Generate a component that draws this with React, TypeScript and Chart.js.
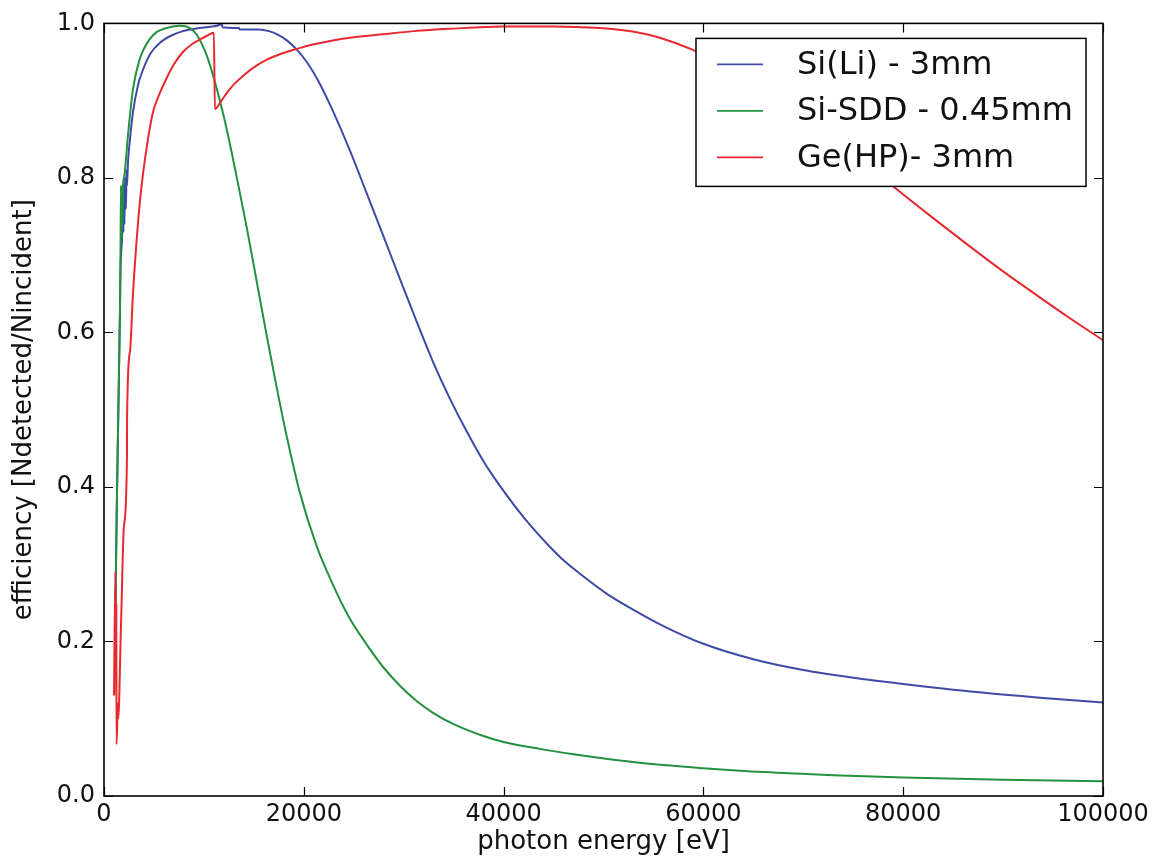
import React, { useEffect, useRef } from "react";
import { Chart, registerables } from "chart.js";

Chart.register(...registerables);

// ---- data (photon energy in eV, efficiency) ----
const siliEnergy = [
  1150, 1200, 1300, 1400, 1500, 1600, 1650, 1700, 1800, 1900, 1950, 2000, 2050, 2100, 2200, 2250, 2300, 2400,
  2600, 2900, 3400, 3900, 4700, 5600, 6700, 7900, 9500, 11300, 11800, 11850, 13500, 13600, 15500, 16500, 17300,
  18300, 19300, 20300, 21300, 22100, 22900, 24600, 26300, 27900, 29600, 31300, 32900, 34600, 36300, 38000,
  39600, 41200, 42900, 44600, 46000, 48000, 50300, 53000, 56000, 60000, 65000, 70000, 75000, 80000, 87000,
  94000, 100000,
];
const siliEff = [
  0.24, 0.3, 0.39, 0.47, 0.55, 0.63, 0.68, 0.7, 0.72, 0.78, 0.73, 0.79, 0.74, 0.8, 0.76, 0.81, 0.79, 0.82,
  0.85, 0.885, 0.92, 0.94, 0.962, 0.975, 0.984, 0.99, 0.994, 0.997, 0.999, 0.995, 0.994, 0.992, 0.992, 0.99, 0.986,
  0.978, 0.966, 0.95, 0.929, 0.909, 0.887, 0.836, 0.78, 0.727, 0.67, 0.614, 0.563, 0.515, 0.472, 0.433,
  0.402, 0.374, 0.347, 0.323, 0.305, 0.284, 0.262, 0.241, 0.22, 0.197, 0.177, 0.163, 0.153, 0.145, 0.135,
  0.127, 0.121,
];

const sddEnergy = [
  1150, 1200, 1300, 1400, 1500, 1600, 1650, 1700, 1750, 1800, 1850, 1900, 2000, 2100, 2400, 2900, 3600, 4200,
  4600, 5300, 6000, 7600, 8600, 9300, 10300, 11300, 12300, 13300, 14300, 15300, 16300, 17300, 18300, 19600,
  21300, 22900, 24500, 26300, 28000, 29600, 31200, 32900, 35000, 37900, 40000, 43600, 47000, 51000, 56000,
  60000, 66000, 73000, 80000, 90000, 100000,
];
const sddEff = [
  0.24, 0.3, 0.39, 0.47, 0.55, 0.63, 0.7, 0.79, 0.72, 0.79, 0.74, 0.79, 0.8, 0.81, 0.855, 0.915, 0.955, 0.972,
  0.98, 0.989, 0.993, 0.997, 0.994, 0.985, 0.958, 0.915, 0.862, 0.8, 0.735, 0.665, 0.595, 0.528, 0.465, 0.393,
  0.323, 0.274, 0.232, 0.196, 0.166, 0.143, 0.124, 0.108, 0.093, 0.078, 0.07, 0.061, 0.054, 0.047, 0.04,
  0.036, 0.031, 0.027, 0.024, 0.021, 0.019,
];

const geEnergy = [
  1000, 1150, 1220, 1240, 1250, 1400, 1420, 1700, 2000, 2300, 2310, 2600, 2900, 3300, 3600, 3900, 4400, 4900,
  5500, 6300, 7000, 7900, 8800, 9600, 10300, 11000, 11100, 11600, 12300, 13000, 14000, 15000, 16300, 17800,
  19300, 21000, 22900, 25000, 27900, 31000, 34600, 40000, 45000, 49600, 52000, 54600, 56900, 58900, 62000,
  66000, 70000, 74000, 77000, 79300, 83000, 86500, 90000, 93500, 96500, 100000,
];
const geEff = [
  0.13, 0.29, 0.13, 0.25, 0.067, 0.12, 0.1, 0.22, 0.35, 0.44, 0.49, 0.575, 0.65, 0.725, 0.77, 0.805, 0.85, 0.885,
  0.907, 0.93, 0.947, 0.963, 0.973, 0.979, 0.984, 0.988, 0.889, 0.897, 0.91, 0.921, 0.933, 0.943, 0.953, 0.961,
  0.967, 0.973, 0.978, 0.982, 0.986, 0.99, 0.993, 0.996, 0.996, 0.994, 0.991, 0.985, 0.976, 0.966, 0.948,
  0.918, 0.883, 0.843, 0.811, 0.786, 0.748, 0.713, 0.679, 0.647, 0.62, 0.59,
];

const seriesLabels = ["Si(Li) - 3mm", "Si-SDD - 0.45mm", "Ge(HP)- 3mm"];
const seriesColors = ["#3d4ba6", "#24913f", "#e8292f"];

const xTicks = [0, 20000, 40000, 60000, 80000, 100000];
const yTicks = [0, 0.2, 0.4, 0.6, 0.8, 1.0];

const xTitle = "photon energy [eV]";
const yTitle = "efficiency [Ndetected/Nincident]";

const FONT = "'DejaVu Sans', Verdana, sans-serif";

const toPoints = (xs: number[], ys: number[]) => xs.map((x, i) => ({ x, y: ys[i] }));

const framePlugin = {
  id: "mplFrame",
  afterDatasetsDraw(chart: any) {
    const { ctx, chartArea: a, scales } = chart;
    ctx.save();
    // inward ticks on all four sides
    ctx.strokeStyle = "#000";
    ctx.lineWidth = 1.2;
    const L = 9;
    for (const t of scales.x.ticks) {
      const px = Math.round(scales.x.getPixelForValue(t.value)) + 0.5;
      ctx.beginPath();
      ctx.moveTo(px, a.bottom);
      ctx.lineTo(px, a.bottom - L);
      ctx.moveTo(px, a.top);
      ctx.lineTo(px, a.top + L);
      ctx.stroke();
    }
    for (const t of scales.y.ticks) {
      const py = Math.round(scales.y.getPixelForValue(t.value)) + 0.5;
      ctx.beginPath();
      ctx.moveTo(a.left, py);
      ctx.lineTo(a.left + L, py);
      ctx.moveTo(a.right, py);
      ctx.lineTo(a.right - L, py);
      ctx.stroke();
    }
    // frame
    ctx.lineWidth = 1.6;
    ctx.strokeRect(a.left, a.top, a.right - a.left, a.bottom - a.top);

    // legend box
    const bx = a.right - 407;
    const by = a.top + 15;
    const bw = 390;
    const bh = 148;
    ctx.fillStyle = "#fff";
    ctx.fillRect(bx, by, bw, bh);
    ctx.lineWidth = 1.5;
    ctx.strokeStyle = "#000";
    ctx.strokeRect(bx, by, bw, bh);
    ctx.font = `32px ${FONT}`;
    ctx.textBaseline = "middle";
    ctx.textAlign = "left";
    const rows = [26, 72.5, 119];
    chart.data.datasets.forEach((ds: any, i: number) => {
      const ly = by + rows[i];
      ctx.strokeStyle = ds.borderColor;
      ctx.lineWidth = 1.6;
      ctx.beginPath();
      ctx.moveTo(bx + 21, ly);
      ctx.lineTo(bx + 67, ly);
      ctx.stroke();
      ctx.fillStyle = "#111";
      ctx.fillText(ds.label, bx + 101, ly + 1);
    });
    ctx.restore();
  },
};

export default function App() {
  const ref = useRef<HTMLCanvasElement | null>(null);

  useEffect(() => {
    if (!ref.current) return;
    const datasets = [
      { label: seriesLabels[0], data: toPoints(siliEnergy, siliEff), borderColor: seriesColors[0], order: 3 },
      { label: seriesLabels[1], data: toPoints(sddEnergy, sddEff), borderColor: seriesColors[1], order: 2 },
      { label: seriesLabels[2], data: toPoints(geEnergy, geEff), borderColor: seriesColors[2], order: 1 },
    ].map((d) => ({
      ...d,
      borderWidth: 2,
      pointRadius: 0,
      cubicInterpolationMode: "monotone",
      fill: false,
      backgroundColor: d.borderColor,
    }));

    const chart = new Chart(ref.current, {
      type: "line",
      data: { datasets },
      plugins: [framePlugin],
      options: {
        animation: false,
        responsive: false,
        maintainAspectRatio: false,
        parsing: false,
        normalized: true,
        layout: { padding: { top: 21, right: 59, left: 0, bottom: 0 } },
        plugins: {
          legend: { display: false },
          tooltip: { enabled: false },
        },
        scales: {
          x: {
            type: "linear",
            min: 0,
            max: 100000,
            afterBuildTicks: (s: any) => {
              s.ticks = xTicks.map((v) => ({ value: v }));
            },
            afterFit: (s: any) => {
              s.height = 62;
            },
            grid: { display: false, drawTicks: false },
            border: { display: false },
            ticks: {
              autoSkip: false,
              maxRotation: 0,
              padding: 4,
              color: "#111",
              font: { family: FONT, size: 24 },
              callback: (v: any) => String(v),
            },
            title: {
              display: true,
              text: xTitle,
              color: "#111",
              font: { family: FONT, size: 26 },
              padding: { top: 0, bottom: 0 },
            },
          },
          y: {
            type: "linear",
            min: 0,
            max: 1,
            afterBuildTicks: (s: any) => {
              s.ticks = yTicks.map((v) => ({ value: v }));
            },
            afterFit: (s: any) => {
              s.width = 104;
            },
            grid: { display: false, drawTicks: false },
            border: { display: false },
            ticks: {
              autoSkip: false,
              padding: 9,
              color: "#111",
              font: { family: FONT, size: 24 },
              callback: (v: any) => Number(v).toFixed(1),
            },
            title: {
              display: true,
              text: yTitle,
              color: "#111",
              font: { family: FONT, size: 26 },
              padding: { top: 9, bottom: 0 },
            },
          },
        },
      } as any,
    });
    return () => chart.destroy();
  }, []);

  return (
    <div style={{ position: "absolute", left: 0, top: 0, width: 1162, height: 858, background: "#fff" }}>
      <canvas ref={ref} width={1162} height={858} style={{ display: "block", width: 1162, height: 858 }} />
    </div>
  );
}
